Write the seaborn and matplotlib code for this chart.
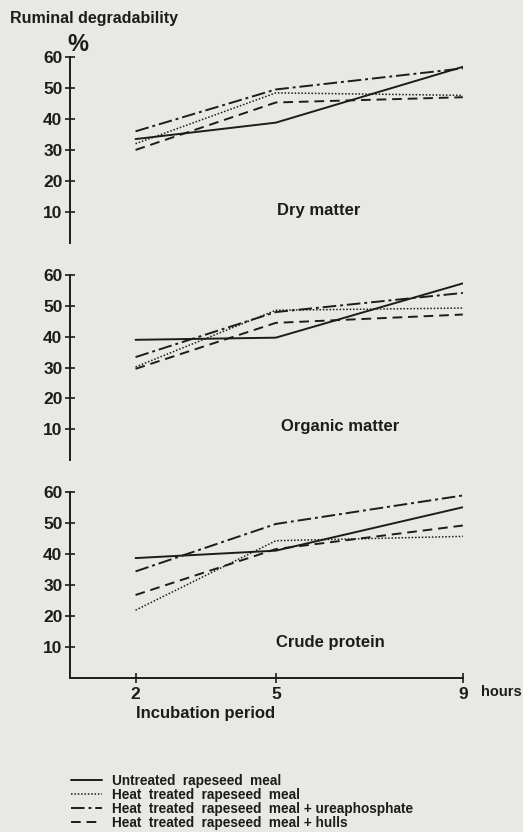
import pandas as pd
import seaborn as sns
import matplotlib.pyplot as plt

# Incubation times (hours) and degradability (%) per treatment
hours = [2, 5, 9]
treatments = [
    "Untreated  rapeseed  meal",
    "Heat  treated  rapeseed  meal",
    "Heat  treated  rapeseed  meal + ureaphosphate",
    "Heat  treated  rapeseed  meal + hulls",
]

dry_untreated = [33.5, 38.8, 56.8]
dry_heat = [32.0, 48.4, 47.6]
dry_urea = [36.0, 49.5, 56.3]
dry_hulls = [30.0, 45.3, 47.0]

org_untreated = [39.0, 39.7, 57.3]
org_heat = [30.2, 48.6, 49.3]
org_urea = [33.4, 48.0, 54.2]
org_hulls = [29.6, 44.5, 47.2]

cp_untreated = [38.7, 41.1, 55.1]
cp_heat = [21.9, 44.3, 45.7]
cp_urea = [34.4, 49.7, 58.9]
cp_hulls = [26.8, 41.6, 49.2]

panels = [
    ("Dry matter", [dry_untreated, dry_heat, dry_urea, dry_hulls]),
    ("Organic matter", [org_untreated, org_heat, org_urea, org_hulls]),
    ("Crude protein", [cp_untreated, cp_heat, cp_urea, cp_hulls]),
]

sns.set_theme(style="white")
plt.rcParams["font.family"] = ["Liberation Sans", "DejaVu Sans"]
paper = "#e8e8e4"
ink = "#1c1c1c"

dashes = {
    treatments[0]: "",
    treatments[1]: (1, 1.2),
    treatments[2]: (7, 2, 1.5, 2),
    treatments[3]: (5, 3),
}
widths = {treatments[0]: 1.4, treatments[1]: 1.1, treatments[2]: 1.4, treatments[3]: 1.4}

fig = plt.figure(figsize=(5.23, 8.32), dpi=100, facecolor=paper)
boxes = [(0.134, 0.708, 0.751, 0.2236), (0.134, 0.447, 0.751, 0.2224), (0.134, 0.185, 0.751, 0.2236)]
title_pos = [(5.92, 10.6), (6.37, 11.0), (6.16, 11.6)]

for i, (name, series) in enumerate(panels):
    ax = fig.add_axes(boxes[i])
    ax.set_facecolor(paper)
    rows = []
    for t, vals in zip(treatments, series):
        for h, v in zip(hours, vals):
            rows.append({"hours": h, "value": v, "treatment": t})
    df = pd.DataFrame(rows)
    sns.lineplot(data=df, x="hours", y="value", style="treatment",
                 dashes=dashes, color=ink, legend=False, ax=ax)
    for line, t in zip(ax.get_lines(), treatments):
        line.set_linewidth(widths[t])
    ax.set_xlim(0.6, 9.0)
    ax.set_ylim(0, 60)
    ax.set_yticks([10, 20, 30, 40, 50, 60])
    ax.set_xlabel("")
    ax.set_ylabel("")
    for s in ["top", "right"]:
        ax.spines[s].set_visible(False)
    ax.spines["left"].set_color(ink)
    ax.spines["left"].set_linewidth(1.4)
    ax.tick_params(axis="y", direction="inout", length=7, width=1.2, color=ink,
                   labelsize=12.5, labelcolor=ink, pad=2, left=True)
    for lab in ax.get_yticklabels():
        lab.set_fontweight("bold")
    ax.text(title_pos[i][0], title_pos[i][1], name, ha="center", va="center",
            fontsize=12, fontweight="bold", color=ink)
    if i < 2:
        ax.spines["bottom"].set_visible(False)
        ax.set_xticks([])
    else:
        ax.spines["bottom"].set_color(ink)
        ax.spines["bottom"].set_linewidth(1.4)
        ax.set_xticks(hours)
        ax.tick_params(axis="x", direction="inout", length=7, width=1.2, color=ink,
                       labelsize=12.5, labelcolor=ink, pad=3, bottom=True)
        for lab in ax.get_xticklabels():
            lab.set_fontweight("bold")
        ax.text(2.0, -0.19, "Incubation period", transform=ax.get_xaxis_transform(),
                ha="left", va="center", fontsize=12, fontweight="bold", color=ink)
        handles = ax.get_lines()[:4]

fig.text(0.997, 0.168, "hours", ha="right", va="center", fontsize=10.5,
         fontweight="bold", color=ink)
fig.text(0.02, 0.978, "Ruminal degradability", fontsize=11.5, fontweight="bold",
         color=ink, va="center")
fig.text(0.149, 0.946, "%", fontsize=17, fontweight="bold", color=ink,
         ha="center", va="center")

fig.legend(handles, treatments, loc="upper left", bbox_to_anchor=(0.136, 0.070),
           frameon=False, prop={"size": 9.8, "weight": "bold"}, handlelength=2.3,
           labelspacing=0.0, handletextpad=0.7, borderaxespad=0, borderpad=0,
           labelcolor=ink)

fig.savefig("out.png", dpi=100, facecolor=paper)
